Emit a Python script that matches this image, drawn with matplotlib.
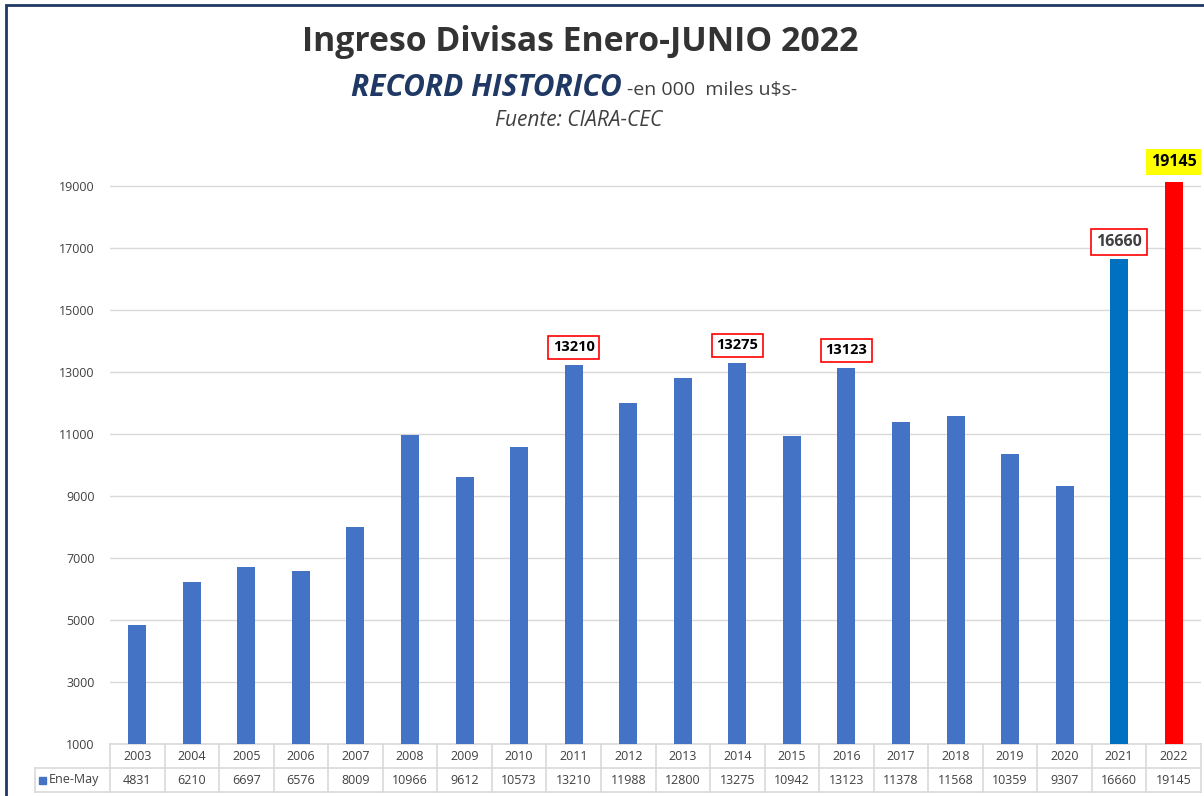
import matplotlib.pyplot as plt
from matplotlib.patches import Rectangle
from matplotlib.lines import Line2D
from matplotlib.transforms import blended_transform_factory

# datos
anios = ['2003', '2004', '2005', '2006', '2007', '2008', '2009', '2010', '2011', '2012',
         '2013', '2014', '2015', '2016', '2017', '2018', '2019', '2020', '2021', '2022']
valores = [4831, 6210, 6697, 6576, 8009, 10966, 9612, 10573, 13210, 11988,
           12800, 13275, 10942, 13123, 11378, 11568, 10359, 9307, 16660, 19145]
destacados = ['2011', '2014', '2016']
serie = 'Ene-May'

plt.rcParams['font.family'] = ['Open Sans', 'DejaVu Sans']

fig = plt.figure(figsize=(12.04, 7.96), dpi=100)
W, H = 1204, 796
ax = fig.add_axes([110 / W, 52 / H, 1091 / W, 589 / H])

colores = []
for a in anios:
    if a == '2021':
        colores.append('#0070c0')
    elif a == '2022':
        colores.append('#ff0000')
    else:
        colores.append('#4472c4')

x = list(range(len(anios)))
ax.bar(x, valores, width=0.33, color=colores, zorder=3)
ax.set_xlim(-0.5, len(anios) - 0.5)
ax.set_ylim(1000, 20000)
ax.set_yticks(range(1000, 19001, 2000))
ax.yaxis.grid(True, color='#d9d9d9', lw=1, zorder=0)
ax.set_xticks([])
for s in ax.spines.values():
    s.set_visible(False)
ax.tick_params(axis='y', length=0, pad=11, labelsize=9, labelcolor='#404040')

# etiquetas de valores
for i, a in enumerate(anios):
    if a in destacados:
        ax.annotate(str(valores[i]), (i, valores[i]), xytext=(0, 13), textcoords='offset points',
                    ha='center', va='center', fontsize=10.5, fontweight='bold', color='black',
                    bbox=dict(boxstyle='square,pad=0.3', fc='white', ec='#ff0000', lw=1.2), zorder=5)
    elif a == '2021':
        ax.annotate(str(valores[i]), (i, valores[i]), xytext=(0, 12), textcoords='offset points',
                    ha='center', va='center', fontsize=11.5, fontweight='bold', color='#404040',
                    bbox=dict(boxstyle='square,pad=0.3', fc='white', ec='#ff0000', lw=1.2), zorder=5)
    elif a == '2022':
        ax.annotate(str(valores[i]), (i, valores[i]), xytext=(0, 14), textcoords='offset points',
                    ha='center', va='center', fontsize=11.5, fontweight='bold', color='black',
                    bbox=dict(boxstyle='square,pad=0.3', fc='#ffff00', ec='none'), zorder=5,
                    annotation_clip=False)

# tabla de datos abajo
tr = blended_transform_factory(ax.transData, fig.transFigure)
y0, y1, y2 = 1 - 744 / H, 1 - 768 / H, 1 - 792 / H
gris = '#d9d9d9'
fig.add_artist(Line2D([35 / W, 1201 / W], [y1, y1], color=gris, lw=1.2))
fig.add_artist(Line2D([35 / W, 1201 / W], [y2, y2], color=gris, lw=1.2))
fig.add_artist(Line2D([35 / W, 35 / W], [y1, y2], color=gris, lw=1.2))
ax.add_line(Line2D([-0.5, len(anios) - 0.5], [y0, y0], transform=tr, color=gris, lw=1.2, clip_on=False))
for i in range(len(anios) + 1):
    ax.add_line(Line2D([i - 0.5, i - 0.5], [y0, y2], transform=tr, color=gris, lw=1.2, clip_on=False))
for i, a in enumerate(anios):
    ax.text(i, (y0 + y1) / 2, a, transform=tr, ha='center', va='center', fontsize=9, color='#404040')
    ax.text(i, (y1 + y2) / 2, str(valores[i]), transform=tr, ha='center', va='center', fontsize=9, color='#404040')
fig.add_artist(Rectangle((39 / W, (y1 + y2) / 2 - 4 / H), 7 / W, 7 / H, color='#4472c4'))
fig.text(49 / W, (y1 + y2) / 2, serie, ha='left', va='center', fontsize=9, color='#404040')

# titulos
fig.text(580 / W, 1 - 42 / H, 'Ingreso Divisas Enero-JUNIO 2022', ha='center', va='center',
         fontsize=24.3, fontweight='bold', color='#333333')
fig.text(622 / W, 1 - 88 / H, 'RECORD HISTORICO', ha='right', va='center', fontsize=21.5,
         fontweight='bold', style='italic', color='#1f3864')
fig.text(627 / W, 1 - 90 / H, '-en 000  miles u$s-', ha='left', va='center', fontsize=14, color='#404040')
fig.text(579 / W, 1 - 120 / H, 'Fuente: CIARA-CEC', ha='center', va='center', fontsize=15,
         style='italic', color='#404040')

# borde
fig.add_artist(Rectangle((6 / W, -0.05), 1.2, 1 - 5 / H + 0.05, fill=False, ec='#1f3864', lw=2))

fig.savefig('out.png', dpi=100)
